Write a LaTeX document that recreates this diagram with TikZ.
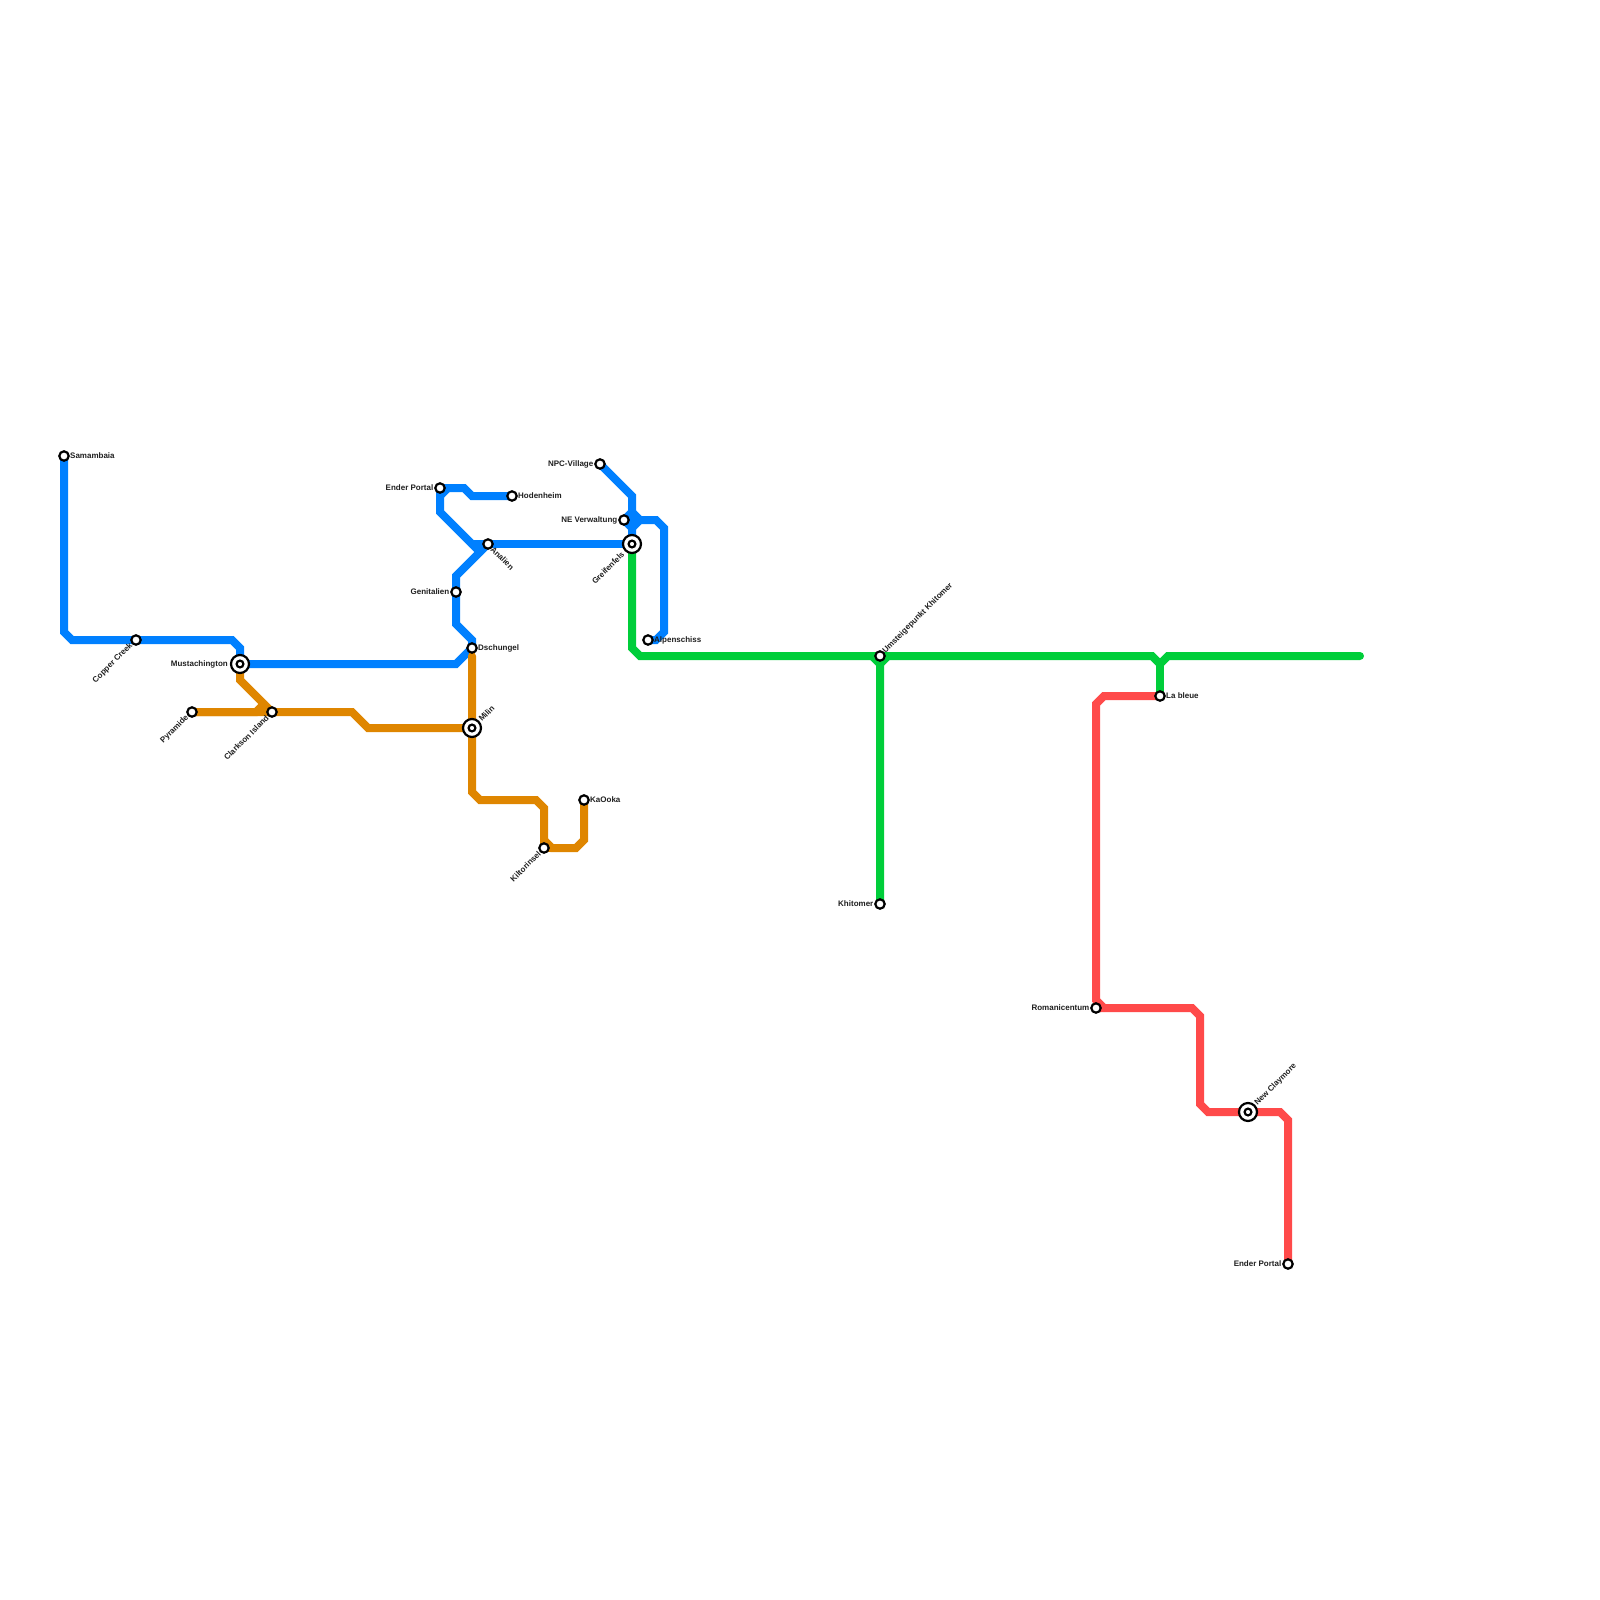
\documentclass[tikz,border=0pt]{standalone}
\usepackage{fontspec}
\setmainfont{Liberation Sans}[BoldFont={Liberation Sans Bold}]
\usetikzlibrary{backgrounds}
\definecolor{lblue}{HTML}{0080FF}
\definecolor{lorange}{HTML}{DF8600}
\definecolor{lgreen}{HTML}{00CE3A}
\definecolor{lred}{HTML}{FF4A4A}
\tikzset{
  metro/.style={line width=8pt,line cap=round,line join=miter,miter limit=10},
  stn/.style={circle,draw=black,line width=2.2pt,fill=white,minimum size=9.4pt,inner sep=0pt},
  hub/.style={circle,draw=black,line width=2.2pt,fill=white,minimum size=18pt,inner sep=0pt,
    path picture={\draw[black,line width=2.2pt,fill=white] (path picture bounding box.center) circle (3.4pt);}},
  lbl/.style={font=\bfseries\fontsize{8}{8}\selectfont,inner sep=0pt,text=black!88},
}
\begin{document}
\begin{tikzpicture}[x=1pt,y=-1pt]
\useasboundingbox (0,0) rectangle (1600,1600);
% stations
\node[stn] (samambaia) at (64,456) {};
\node[stn] (copper) at (136,640) {};
\node[hub] (mustach) at (240,664) {};
\node[stn] (pyramide) at (192,712) {};
\node[stn] (clarkson) at (272,712) {};
\node[hub] (milin) at (472,728) {};
\node[stn] (kiltor) at (544,848) {};
\node[stn] (kaooka) at (584,800) {};
\node[stn] (dschungel) at (472,648) {};
\node[stn] (genital) at (456,592) {};
\node[stn] (analien) at (488,544) {};
\node[stn] (enderA) at (440,488) {};
\node[stn] (hoden) at (512,496) {};
\node[stn] (npc) at (600,464) {};
\node[stn] (neverw) at (624,520) {};
\node[hub] (greifen) at (632,544) {};
\node[stn] (alpen) at (648,640) {};
\node[stn] (umsteig) at (880,656) {};
\node[stn] (khitomer) at (880,904) {};
\node[stn] (lableue) at (1160,696) {};
\coordinate (greenend) at (1360,656);
\node[stn] (romani) at (1096,1008) {};
\node[hub] (claymore) at (1248,1112) {};
\node[stn] (enderB) at (1288,1264) {};
% lines
\begin{scope}[on background layer]
\draw[metro,lred] (lableue.center) -- (1104,696) -- (1096,704) -- (1096,1000) -- (1104,1008);
\draw[metro,lred] (romani.center) -- (1192,1008) -- (1200,1016) -- (1200,1104) -- (1208,1112) -- (claymore.center) -- (1280,1112) -- (1288,1120) -- (enderB.center);
\draw[metro,lgreen] (greifen.center) -- (632,648) -- (640,656) -- (umsteig.center) -- (1152,656) -- (1160,664) -- (1168,656) -- (greenend);
\draw[metro,lgreen] (khitomer.center) -- (880,664) -- (872,656);
\draw[metro,lgreen] (880,664) -- (888,656);
\draw[metro,lgreen] (lableue.center) -- (1160,664);
\draw[metro,lblue] (samambaia.center) -- (64,632) -- (72,640) -- (copper.center) -- (232,640) -- (240,648) -- (mustach.center);
\draw[metro,lblue] (mustach.center) -- (456,664) -- (472,648) -- (dschungel.center);
\draw[metro,lblue] (dschungel.center) -- (472,640) -- (456,624) -- (genital.center) -- (456,576) -- (analien.center);
\draw[metro,lblue] (enderA.center) -- (464,488) -- (472,496) -- (hoden.center);
\draw[metro,lblue] (enderA.center) -- (440,512) -- (472,544) -- (480,552);
\draw[metro,lblue] (440,496) -- (448,488);
\draw[metro,lblue] (472,544) -- (analien.center) -- (greifen.center);
\draw[metro,lblue] (npc.center) -- (632,496) -- (greifen.center);
\draw[metro,lblue] (neverw.center) -- (632,512) -- (640,520) -- (656,520) -- (664,528) -- (664,632) -- (656,640) -- (alpen.center);
\draw[metro,lblue] (632,528) -- (640,520);
\draw[metro,lblue] (neverw.center) -- (632,528);
\draw[metro,lorange] (mustach.center) -- (240,680) -- (clarkson.center);
\draw[metro,lorange] (pyramide.center) -- (256,712) -- (264,704);
\draw[metro,lorange] (pyramide.center) -- (clarkson.center) -- (352,712) -- (368,728) -- (milin.center);
\draw[metro,lorange] (dschungel.center) ++(0,8) -- (milin.center) -- (472,792) -- (480,800) -- (536,800) -- (544,808) -- (kiltor.center);
\draw[metro,lorange] (544,840) -- (552,848) -- (576,848) -- (584,840) -- (kaooka.center);
\draw[metro,lorange] (kiltor.center) -- (552,848);
\end{scope}
% labels
\node[lbl,anchor=west] (l1) at (70,456) {Samambaia};
\node[lbl,anchor=east,rotate=45] (l2) at (131.5,644.5) {Copper Creek};
\node[lbl,anchor=east] (l3) at (228,664) {Mustachington};
\node[lbl,anchor=east,rotate=45] (l4) at (187.5,716.5) {Pyramide};
\node[lbl,anchor=east,rotate=45] (l5) at (267.5,716.5) {Clarkson Island};
\node[lbl,anchor=west,rotate=45] (l6) at (480,720) {Milin};
\node[lbl,anchor=east,rotate=45] (l7) at (539.5,852.5) {Kiltorinsel};
\node[lbl,anchor=west] (l8) at (590,800) {KaOoka};
\node[lbl,anchor=west] (l9) at (478,648) {Dschungel};
\node[lbl,anchor=east] (l10) at (449.5,592) {Genitalien};
\node[lbl,anchor=west,rotate=-45] (l11) at (492,548) {Analien};
\node[lbl,anchor=east] (l12) at (433.5,488) {Ender Portal};
\node[lbl,anchor=west] (l13) at (518,496) {Hodenheim};
\node[lbl,anchor=east] (l14) at (593.5,464) {NPC-Village};
\node[lbl,anchor=east] (l15) at (617.5,520) {NE Verwaltung};
\node[lbl,anchor=east,rotate=45] (l16) at (623,553) {Greifenfels};
\node[lbl,anchor=west] (l17) at (654,640) {Alpenschiss};
\node[lbl,anchor=west,rotate=45] (l18) at (884,652) {Umsteigepunkt Khitomer};
\node[lbl,anchor=east] (l19) at (873.5,904) {Khitomer};
\node[lbl,anchor=west] (l20) at (1166,696) {La bleue};
\node[lbl,anchor=east] (l21) at (1089.5,1008) {Romanicentum};
\node[lbl,anchor=west,rotate=45] (l22) at (1256,1104) {New Claymore};
\node[lbl,anchor=east] (l23) at (1281.5,1264) {Ender Portal};
\end{tikzpicture}
\end{document}
